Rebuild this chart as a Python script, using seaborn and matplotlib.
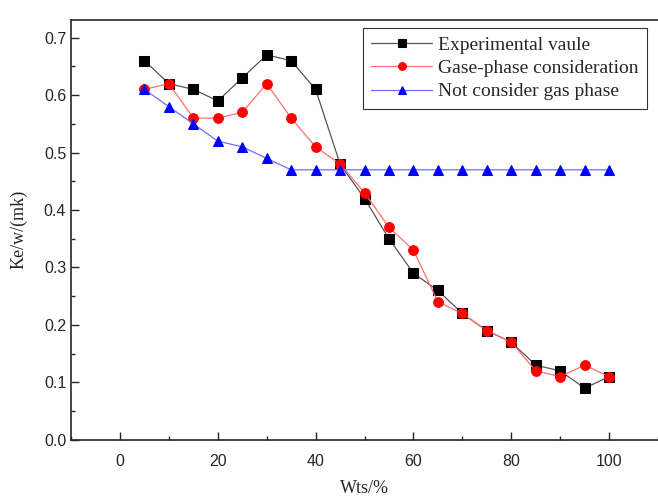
import numpy as np
import pandas as pd
import matplotlib
matplotlib.use("Agg")
import matplotlib.pyplot as plt
import seaborn as sns
from matplotlib.ticker import MultipleLocator

wts = [5, 10, 15, 20, 25, 30, 35, 40, 45, 50, 55, 60, 65, 70, 75, 80, 85, 90, 95, 100]
experimental = [0.66, 0.62, 0.61, 0.59, 0.63, 0.67, 0.66, 0.61, 0.48, 0.42,
                0.35, 0.29, 0.26, 0.22, 0.19, 0.17, 0.13, 0.12, 0.09, 0.11]
gas_phase = [0.61, 0.62, 0.56, 0.56, 0.57, 0.62, 0.56, 0.51, 0.48, 0.43,
             0.37, 0.33, 0.24, 0.22, 0.19, 0.17, 0.12, 0.11, 0.13, 0.11]
no_gas = [0.61, 0.58, 0.55, 0.52, 0.51, 0.49, 0.47, 0.47, 0.47, 0.47,
          0.47, 0.47, 0.47, 0.47, 0.47, 0.47, 0.47, 0.47, 0.47, 0.47]

labels = ["Experimental vaule", "Gase-phase consideration", "Not consider gas phase"]

df = pd.DataFrame({
    "wts": wts * 3,
    "k": experimental + gas_phase + no_gas,
    "series": [labels[0]] * 20 + [labels[1]] * 20 + [labels[2]] * 20,
})

sns.set_style("ticks")
plt.rcParams["font.family"] = ["Liberation Sans", "DejaVu Sans"]

fig = plt.figure(figsize=(6.58, 4.97), dpi=100)
ax = fig.add_axes([0.108, 0.115, 0.892, 0.845])

styles = [("s", "black", "#555555"), ("o", "red", "#ff7070"), ("^", "blue", "#6f6fff")]
for lab, (mk, mc, lc) in zip(labels, styles):
    sub = df[df["series"] == lab]
    sns.lineplot(data=sub, x="wts", y="k", ax=ax, color=lc, linewidth=0.9,
                 marker=mk, markersize=7, markerfacecolor=mc, markeredgecolor=mc,
                 label=lab)

ax.set_xlim(-10, 110)
ax.set_ylim(0, 0.731)
ax.xaxis.set_major_locator(MultipleLocator(20))
ax.xaxis.set_minor_locator(MultipleLocator(10))
ax.yaxis.set_major_locator(MultipleLocator(0.1))
ax.yaxis.set_minor_locator(MultipleLocator(0.05))
ax.yaxis.set_major_formatter(matplotlib.ticker.FormatStrFormatter("%.1f"))
ax.tick_params(axis="x", which="major", pad=10)
ax.tick_params(which="major", direction="in", length=6, width=1, labelsize=11.5,
               top=False, right=False)
ax.tick_params(which="minor", direction="in", length=3, width=1, top=False, right=False)
for s in ax.spines.values():
    s.set_linewidth(1.2)
ax.spines["right"].set_visible(False)

ax.set_xlabel("Wts/%", family="Liberation Serif", fontsize=13, labelpad=8)
ax.set_ylabel("Ke/w/(mk)", family="Liberation Serif", fontsize=13, labelpad=12)

leg = ax.legend(loc="upper right", bbox_to_anchor=(0.981, 0.981), frameon=True,
                fancybox=False, edgecolor="#333333", framealpha=1,
                prop={"family": "Liberation Serif", "size": 14},
                handlelength=3.1, borderpad=0.45, labelspacing=0.28, handletextpad=0.3,
                borderaxespad=0, markerscale=0.8)
leg.get_frame().set_linewidth(0.8)

fig.savefig("out.png", dpi=100)
